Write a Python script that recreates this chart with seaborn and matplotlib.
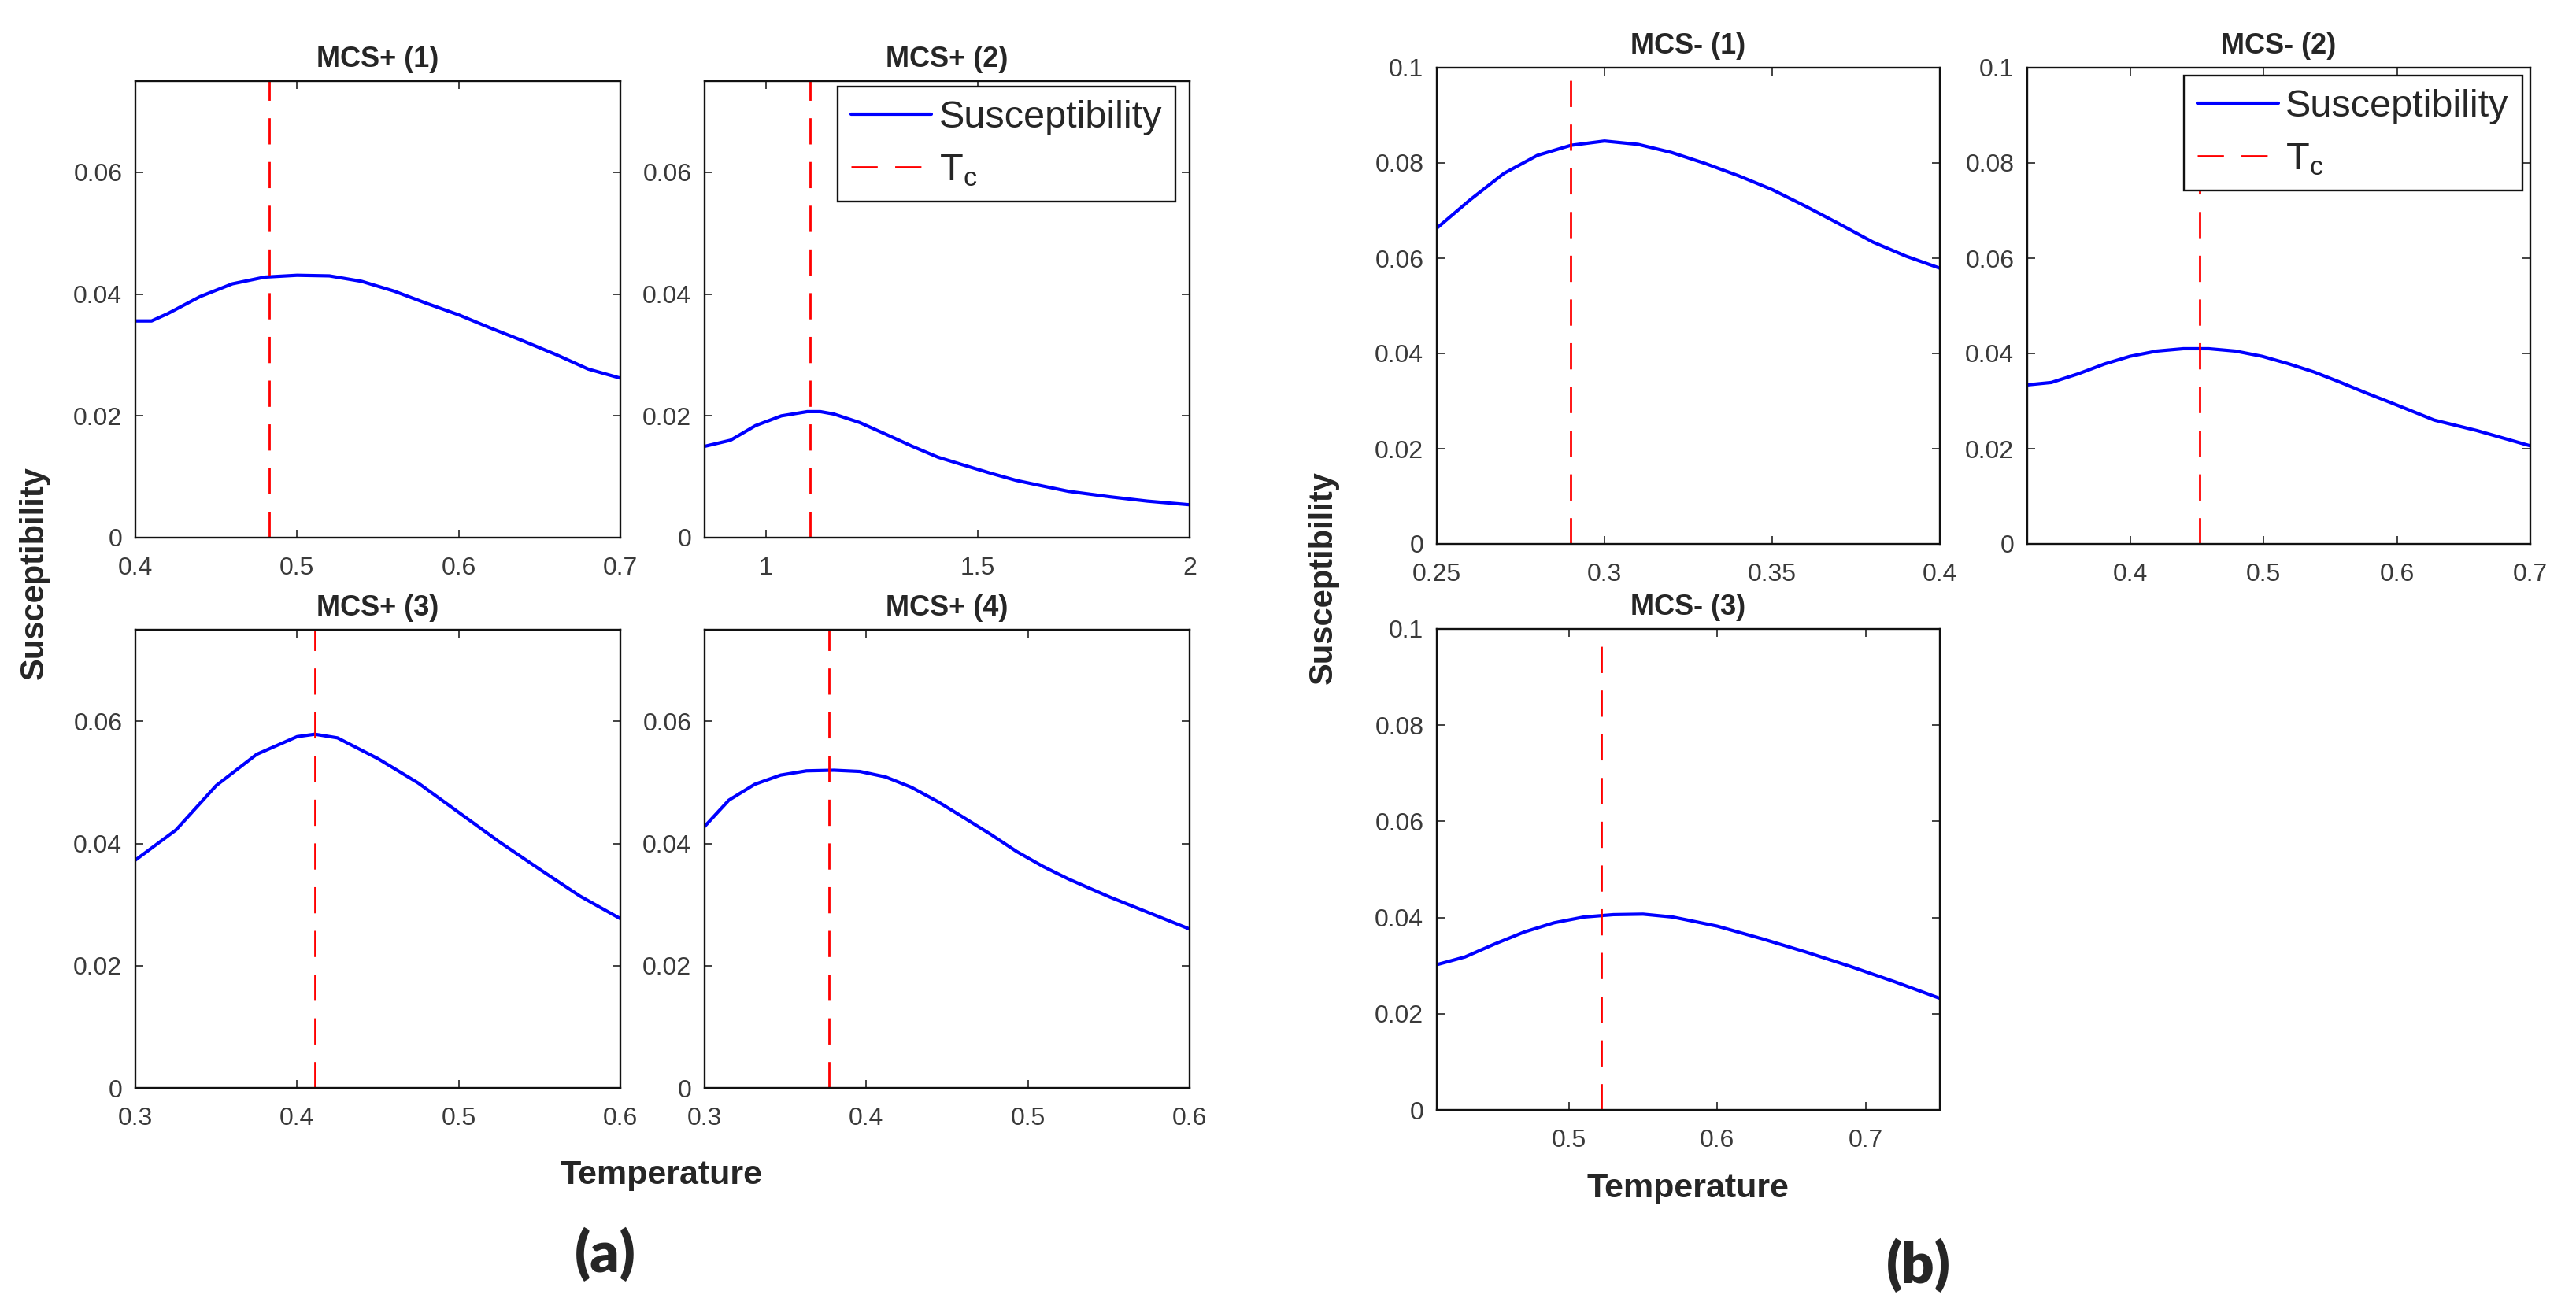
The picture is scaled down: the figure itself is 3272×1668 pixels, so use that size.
import matplotlib
matplotlib.use("Agg")
import matplotlib.pyplot as plt
import seaborn as sns
from matplotlib.ticker import FuncFormatter

# values
temp_p1 = [0.40, 0.41, 0.42, 0.44, 0.46, 0.48, 0.50, 0.52, 0.54, 0.56, 0.58, 0.60, 0.62, 0.64, 0.66, 0.68, 0.70]
chi_p1 = [0.0356, 0.0356, 0.0368, 0.0396, 0.0417, 0.0428, 0.0431, 0.0430, 0.0421, 0.0405, 0.0385, 0.0366,
          0.0344, 0.0323, 0.0301, 0.0277, 0.0262]

temp_p2 = [0.856, 0.917, 0.976, 1.037, 1.098, 1.129, 1.161, 1.222, 1.283, 1.346, 1.407, 1.468, 1.530,
           1.591, 1.652, 1.715, 1.813, 1.90, 2.0]
chi_p2 = [0.0150, 0.0160, 0.0184, 0.0200, 0.0207, 0.0207, 0.0203, 0.0189, 0.0170, 0.0150, 0.0132, 0.0119,
          0.0106, 0.0094, 0.0085, 0.0076, 0.0067, 0.0060, 0.0054]

temp_p3 = [0.30, 0.325, 0.35, 0.375, 0.40, 0.411, 0.425, 0.45, 0.475, 0.50, 0.525, 0.55, 0.575, 0.60]
chi_p3 = [0.0373, 0.0422, 0.0495, 0.0546, 0.0575, 0.0579, 0.0573, 0.0539, 0.0499, 0.0451, 0.0403, 0.0358,
          0.0314, 0.0277]

temp_p4 = [0.30, 0.315, 0.331, 0.347, 0.363, 0.380, 0.396, 0.412, 0.428, 0.444, 0.460, 0.477, 0.493,
           0.509, 0.525, 0.551, 0.60]
chi_p4 = [0.0428, 0.0471, 0.0497, 0.0512, 0.0519, 0.0520, 0.0518, 0.0509, 0.0492, 0.0469, 0.0443, 0.0415,
          0.0387, 0.0363, 0.0342, 0.0312, 0.0260]

temp_m1 = [0.25, 0.26, 0.27, 0.28, 0.29, 0.30, 0.31, 0.32, 0.33, 0.34, 0.35, 0.36, 0.37, 0.38, 0.39, 0.40]
chi_m1 = [0.0663, 0.0723, 0.0778, 0.0816, 0.0837, 0.0846, 0.0839, 0.0822, 0.0799, 0.0773, 0.0744, 0.0709,
          0.0672, 0.0634, 0.0604, 0.0579]

temp_m2 = [0.323, 0.341, 0.361, 0.381, 0.40, 0.420, 0.440, 0.459, 0.479, 0.499, 0.518, 0.538, 0.558,
           0.577, 0.597, 0.628, 0.66, 0.70]
chi_m2 = [0.0334, 0.0339, 0.0357, 0.0378, 0.0394, 0.0405, 0.0410, 0.0410, 0.0405, 0.0394, 0.0379, 0.0361,
          0.0339, 0.0317, 0.0295, 0.0260, 0.0238, 0.0206]

temp_m3 = [0.411, 0.43, 0.45, 0.47, 0.49, 0.51, 0.53, 0.55, 0.57, 0.60, 0.63, 0.66, 0.69, 0.72, 0.75]
chi_m3 = [0.0302, 0.0318, 0.0345, 0.0370, 0.0389, 0.0401, 0.0406, 0.0407, 0.0401, 0.0382, 0.0356, 0.0328,
          0.0298, 0.0266, 0.0232]

titles = ["MCS+ (1)", "MCS+ (2)", "MCS+ (3)", "MCS+ (4)", "MCS- (1)", "MCS- (2)", "MCS- (3)"]
tc_values = [0.483, 1.105, 0.411, 0.377, 0.290, 0.4525, 0.522]
x_limits = [(0.4, 0.7), (0.856, 2.0), (0.3, 0.6), (0.3, 0.6), (0.25, 0.4), (0.323, 0.7), (0.411, 0.75)]
x_ticks = [[0.4, 0.5, 0.6, 0.7], [1, 1.5, 2], [0.3, 0.4, 0.5, 0.6], [0.3, 0.4, 0.5, 0.6],
           [0.25, 0.3, 0.35, 0.4], [0.4, 0.5, 0.6, 0.7], [0.5, 0.6, 0.7]]
y_max_a = 0.075
y_ticks_a = [0, 0.02, 0.04, 0.06]
y_max_b = 0.1
y_ticks_b = [0, 0.02, 0.04, 0.06, 0.08, 0.1]

temps = [temp_p1, temp_p2, temp_p3, temp_p4, temp_m1, temp_m2, temp_m3]
chis = [chi_p1, chi_p2, chi_p3, chi_p4, chi_m1, chi_m2, chi_m3]

sns.set_style("ticks")
plt.rcParams["font.family"] = ["Liberation Sans", "DejaVu Sans"]
plt.rcParams["mathtext.fontset"] = "custom"
plt.rcParams["mathtext.rm"] = "Liberation Sans"

W, H = 3272, 1668
fig = plt.figure(figsize=(W / 100, H / 100), dpi=100)


def px_rect(x0, y0, x1, y1):
    return [x0 / W, 1 - y1 / H, (x1 - x0) / W, (y1 - y0) / H]


# axes boxes in pixels (left, top, right, bottom)
boxes = [(172, 103, 788, 683), (895, 103, 1511, 683), (172, 800, 788, 1382), (895, 800, 1511, 1382),
         (1825, 86, 2464, 691), (2575, 86, 3214, 691), (1825, 799, 2464, 1410)]
fmt = FuncFormatter(lambda v, pos: "%g" % v)

for i in range(7):
    ax = fig.add_axes(px_rect(*boxes[i]))
    sns.lineplot(x=temps[i], y=chis[i], ax=ax, color="#0000ff", linewidth=3.0, label="Susceptibility",
                 legend=False)
    ax.axvline(tc_values[i], color="#ff0000", linestyle=(0, (12, 8)), linewidth=2.0,
               label="$\\mathregular{T_c}$")
    ax.set_xlim(*x_limits[i])
    ax.set_xticks(x_ticks[i])
    if i < 4:
        ax.set_ylim(0, y_max_a)
        ax.set_yticks(y_ticks_a)
    else:
        ax.set_ylim(0, y_max_b)
        ax.set_yticks(y_ticks_b)
    ax.xaxis.set_major_formatter(fmt)
    ax.yaxis.set_major_formatter(fmt)
    ax.tick_params(direction="in", length=7, width=1.2, top=True, right=True, labelsize=23,
                   labelcolor="#3a3a3a", color="#222222")
    ax.tick_params(axis="x", pad=17)
    ax.tick_params(axis="y", pad=12)
    for sp in ax.spines.values():
        sp.set_linewidth(1.7)
        sp.set_color("#111111")
    ax.set_title(titles[i], fontsize=26, fontweight="bold", pad=13)
    if ax.get_legend() is not None:
        ax.get_legend().remove()
    if i == 1 or i == 5:
        anchor = (0.971, 0.988) if i == 1 else (0.984, 0.983)
        leg = ax.legend(loc="upper right", bbox_to_anchor=anchor, borderaxespad=0, fontsize=35,
                        handlelength=2.1, handletextpad=0.2, labelspacing=0.45, borderpad=0.35,
                        fancybox=False, framealpha=1, edgecolor="#111111")
        leg.get_frame().set_linewidth(1.7)

label_col = "#262626"
fig.text(44 / W, 1 - 728 / H, "Susceptibility", rotation=90, ha="center", va="center",
         fontsize=30, fontweight="bold", color=label_col)
fig.text(1681 / W, 1 - 734 / H, "Susceptibility", rotation=90, ha="center", va="center",
         fontsize=30, fontweight="bold", color=label_col)
fig.text(840 / W, 1 - 1493 / H, "Temperature", ha="center", va="center",
         fontsize=31, fontweight="bold", color=label_col)
fig.text(2144 / W, 1 - 1510 / H, "Temperature", ha="center", va="center",
         fontsize=31, fontweight="bold", color=label_col)
fig.text(769 / W, 1 - 1593 / H, "(a)", ha="center", va="center", fontsize=52,
         fontweight="heavy", family=["Lato", "DejaVu Sans"])
fig.text(2437 / W, 1 - 1607 / H, "(b)", ha="center", va="center", fontsize=52,
         fontweight="heavy", family=["Lato", "DejaVu Sans"])

fig.savefig("out.png", dpi=100, facecolor="white")
